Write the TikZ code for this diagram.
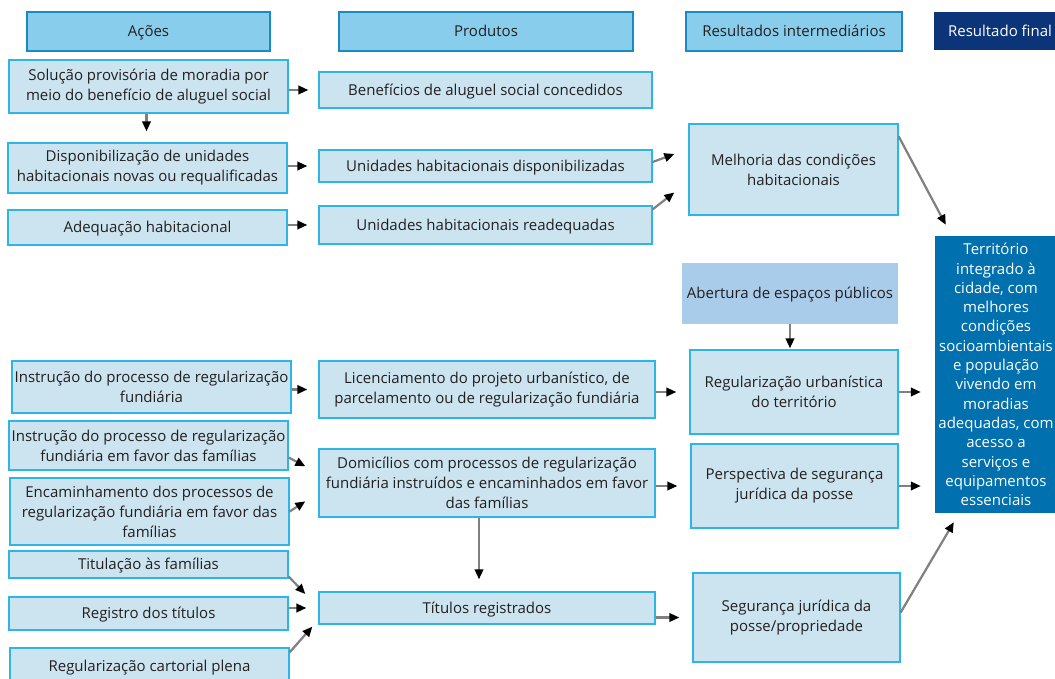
\documentclass[tikz,border=0pt]{standalone}
\usepackage{fontspec}
\setmainfont{Open Sans}
\usetikzlibrary{arrows.meta,calc}
\definecolor{hdrfill}{HTML}{88CEEC}
\definecolor{hdrline}{HTML}{1B8AC4}
\definecolor{boxfill}{HTML}{CCE4F0}
\definecolor{boxline}{HTML}{2CB5E5}
\definecolor{openfill}{HTML}{AACCEB}
\definecolor{navy}{HTML}{0B3479}
\definecolor{finblue}{HTML}{0070AE}
\definecolor{txt}{HTML}{231F20}
\definecolor{arrgray}{HTML}{808080}
\begin{document}
\begin{tikzpicture}[x=1pt,y=-1pt,
  every node/.style={font=\fontsize{15}{20}\selectfont, text=txt, align=center, inner sep=0pt},
  one/.style={text height=14pt, text depth=3.3pt},
  hdr/.style={draw=hdrline, fill=hdrfill, line width=1.3pt, one},
  lbox/.style={draw=boxline, fill=boxfill, line width=1.3pt},
  openbox/.style={fill=openfill},
  finhdr/.style={fill=navy, text=white, one},
  finbox/.style={fill=finblue, text=white, font=\fontsize{15}{19.3}\selectfont},
  arr/.style={draw=arrgray, line width=2.2pt, -{Triangle[length=10pt,width=8.5pt,black]}},
]
\clip (0,0) rectangle (1055,679);
\fill[white] (0,0) rectangle (1055,679);
% headers
\node[hdr, minimum width=243pt, minimum height=39pt] (h1) at (148.5,31.5) {Ações};
\node[hdr, minimum width=294pt, minimum height=39pt] (h2) at (486,31.5) {Produtos};
\node[hdr, minimum width=216pt, minimum height=39pt] (h3) at (794,31.5) {Resultados intermediários};
\node[finhdr, minimum width=132pt, minimum height=38pt] (h4) at (1000,31) {Resultado final};
% actions
\node[lbox, minimum width=279pt, minimum height=53pt] (a1) at (148.5,86.5) {Solução provisória de moradia por\\meio do benefício de aluguel social};
\node[lbox, minimum width=279pt, minimum height=50pt] (a2) at (147.5,168) {Disponibilização de unidades\\habitacionais novas ou requalificadas};
\node[lbox, one, minimum width=279pt, minimum height=35pt] (a3) at (147.5,227.5) {Adequação habitacional};
\node[lbox, minimum width=279pt, minimum height=52pt] (a4) at (151.5,387) {Instrução do processo de regularização\\fundiária};
\node[lbox, minimum width=279pt, minimum height=49pt] (a5) at (148.5,445.5) {Instrução do processo de regularização\\fundiária em favor das famílias};
\node[lbox, minimum width=279pt, minimum height=67pt] (a6) at (149.5,511.5) {Encaminhamento dos processos de\\regularização fundiária em favor das\\famílias};
\node[lbox, one, minimum width=279pt, minimum height=27pt] (a7) at (148.5,564.5) {Titulação às famílias};
\node[lbox, one, minimum width=279pt, minimum height=33pt] (a8) at (148.5,613.5) {Registro dos títulos};
\node[lbox, one, minimum width=279pt, minimum height=36pt] (a9) at (149.5,666) {Regularização cartorial plena};
% products
\node[lbox, one, minimum width=333pt, minimum height=36pt] (p1) at (485.5,90) {Benefícios de aluguel social concedidos};
\node[lbox, one, minimum width=333pt, minimum height=32pt] (p2) at (485.5,166) {Unidades habitacionais disponibilizadas};
\node[lbox, one, minimum width=333pt, minimum height=38pt] (p3) at (485.5,225) {Unidades habitacionais readequadas};
\node[lbox, minimum width=336pt, minimum height=57pt] (p4) at (487,389.5) {Licenciamento do projeto urbanístico, de\\parcelamento ou de regularização fundiária};
\node[lbox, minimum width=336pt, minimum height=68pt] (p5) at (487,483) {Domicílios com processos de regularização\\fundiária instruídos e encaminhados em favor\\das famílias};
\node[lbox, one, minimum width=336pt, minimum height=32pt] (p6) at (487,608) {Títulos registrados};
% intermediate results
\node[lbox, minimum width=209pt, minimum height=91pt] (r1) at (793.5,169.5) {Melhoria das condições\\habitacionais};
\node[openbox, one, minimum width=216pt, minimum height=61pt] (r2) at (790,293.5) {Abertura de espaços públicos};
\node[lbox, minimum width=208pt, minimum height=84pt] (r3) at (794,392) {Regularização urbanística\\do território};
\node[lbox, minimum width=207pt, minimum height=84pt] (r4) at (794.5,486) {Perspectiva de segurança\\jurídica da posse};
\node[lbox, minimum width=207pt, minimum height=89pt] (r5) at (796.5,617.5) {Segurança jurídica da\\posse/propriedade};
% final result
\node[finbox, minimum width=122pt, minimum height=277pt] (fin) at (996,374.5) {Território\\integrado à\\cidade, com\\melhores\\condições\\socioambientais\\e população\\vivendo em\\moradias\\adequadas, com\\acesso a\\serviços e\\equipamentos\\essenciais};
% connectors
\draw[arr, shorten >=10pt] (a1.east |- p1.west) -- (p1.west);
\draw[arr, shorten >=11pt] ([xshift=-2pt]a1.south) -- ([xshift=-1pt]a2.north);
\draw[arr, shorten >=11pt] (a2.east |- p2.west) -- (p2.west);
\draw[arr, shorten >=11pt] (a3.east |- p3.west) -- (p3.west);
\draw[arr] ($(p2.east)+(0,-4)$) -- ($(r1.west)+(-14,-15.5)$);
\draw[arr] ($(p3.north east)+(0,4)$) -- ($(r1.west)+(-14,23)$);
\draw[arr] ($(r1.north east)+(0,13)$) -- ($(fin.north west)+(11,-11)$);
\draw[arr, shorten >=1pt] (r2.south) -- (r2.south |- r3.north);
\draw[arr, shorten >=11pt] (a4.east |- p4.west) -- (p4.west);
\draw[arr, shorten >=13pt] (p4.east |- r3.west) -- (r3.west);
\draw[arr] ($(a5.east)+(0,12)$) -- ($(p5.north west)+(-13,18)$);
\draw[arr] ($(a6.east)+(0,0)$) -- ($(p5.north west)+(-13,53)$);
\draw[arr, shorten >=12pt] ([xshift=-8pt]p5.south) -- ([xshift=-8pt]p6.north);
\draw[arr, shorten >=13pt] (p5.east |- r4.west) -- (r4.west);
\draw[arr] ($(a7.east)+(0,12)$) -- ($(p6.west)+(-13,-14)$);
\draw[arr, shorten >=12pt] (a8.east |- p6.west) -- (p6.west);
\draw[arr] ($(a9.north east)+(0,5)$) -- ($(p6.south west)+(-6,2)$);
\draw[arr, shorten >=13pt] (p6.east |- r5.west) -- (r5.west);
\draw[arr, shorten >=14pt] (r3.east) -- (r3.east -| fin.west);
\draw[arr, shorten >=14pt] (r4.east) -- (r4.east -| fin.west);
\draw[arr] ($(r5.east)+(0,-5)$) -- ($(fin.south west)+(19,9)$);
\end{tikzpicture}
\end{document}
